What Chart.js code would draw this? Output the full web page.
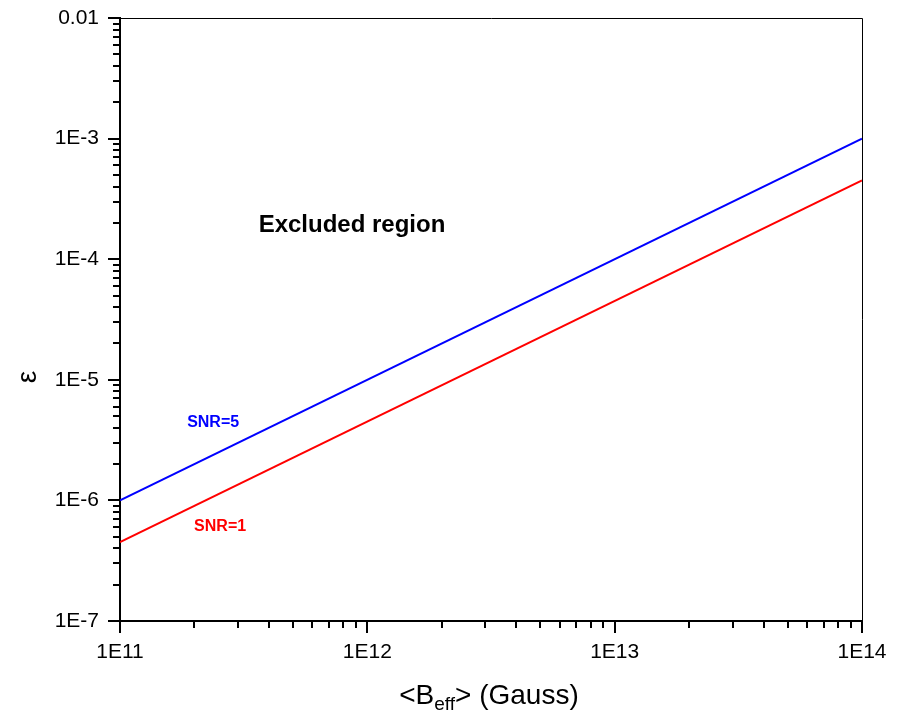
<!DOCTYPE html>
<html><head><meta charset="utf-8">
<script src="https://cdn.jsdelivr.net/npm/chart.js@4"></script>
<style>html,body{margin:0;padding:0;background:#fff}</style>
</head><body>
<canvas id="c" width="901" height="714"></canvas>
<script>
// ---- data ----
const bField = [1e11, 1e14];
const epsSNR5 = [1e-6, 1e-3];
const epsSNR1 = [4.5e-7, 4.5e-4];
const seriesNames = ['SNR=5', 'SNR=1'];
const xMajorTicks = [1e11, 1e12, 1e13, 1e14];
const xTickLabels = ['1E11', '1E12', '1E13', '1E14'];
const yMajorTicks = [1e-7, 1e-6, 1e-5, 1e-4, 1e-3, 1e-2];
const yTickLabels = ['1E-7', '1E-6', '1E-5', '1E-4', '1E-3', '0.01'];
const noteTexts = ['Excluded region', 'SNR=5', 'SNR=1'];
const noteX = [8.67e11, 2.38e11, 2.54e11];
const noteY = [1.92e-4, 4.38e-6, 6.1e-7];

const FONT = '"Liberation Sans", Arial, sans-serif';

function minorTicks(majors) {
  const out = [];
  for (let i = 0; i < majors.length - 1; i++) {
    for (let k = 2; k <= 9; k++) out.push(majors[i] * k);
  }
  return out;
}

function noOverflow(s) {
  s.paddingTop = 0; s.paddingBottom = 0; s.paddingLeft = 0; s.paddingRight = 0;
}

const decoPlugin = {
  id: 'deco',
  afterDraw(chart) {
    const ctx = chart.ctx;
    const xs = chart.scales.x, ys = chart.scales.y;
    const ca = chart.chartArea;
    ctx.save();
    // top & right thin frame
    ctx.strokeStyle = '#000';
    ctx.lineWidth = 1;
    ctx.beginPath();
    ctx.moveTo(ca.left, ca.top + 0.5);
    ctx.lineTo(ca.right + 0.5, ca.top + 0.5);
    ctx.lineTo(ca.right + 0.5, ca.bottom);
    ctx.stroke();
    // ticks
    ctx.lineWidth = 2;
    ctx.beginPath();
    const xb = ca.bottom;
    xMajorTicks.forEach(v => { const p = Math.round(xs.getPixelForValue(v)); ctx.moveTo(p, xb); ctx.lineTo(p, xb + 12); });
    minorTicks(xMajorTicks).forEach(v => { const p = Math.round(xs.getPixelForValue(v)); ctx.moveTo(p, xb); ctx.lineTo(p, xb + 7); });
    const yl = ca.left;
    yMajorTicks.forEach(v => { const p = Math.round(ys.getPixelForValue(v)); ctx.moveTo(yl, p); ctx.lineTo(yl - 12, p); });
    minorTicks(yMajorTicks).forEach(v => { const p = Math.round(ys.getPixelForValue(v)); ctx.moveTo(yl, p); ctx.lineTo(yl - 7, p); });
    ctx.stroke();
    // notes
    ctx.textAlign = 'center';
    ctx.textBaseline = 'middle';
    const noteStyle = [
      { font: 'bold 24px ' + FONT, color: '#000' },
      { font: 'bold 16px ' + FONT, color: '#0000ff' },
      { font: 'bold 16px ' + FONT, color: '#ff0000' }
    ];
    noteTexts.forEach((t, i) => {
      ctx.font = noteStyle[i].font;
      ctx.fillStyle = noteStyle[i].color;
      ctx.fillText(t, xs.getPixelForValue(noteX[i]), ys.getPixelForValue(noteY[i]));
    });
    // y title
    ctx.fillStyle = '#000';
    ctx.save();
    ctx.translate(28, 377);
    ctx.rotate(-Math.PI / 2);
    ctx.font = '28px ' + FONT;
    ctx.textAlign = 'center';
    ctx.textBaseline = 'middle';
    ctx.fillText('\u03b5', 0, 0);
    ctx.restore();
    // x title with subscript
    const big = '28px ' + FONT, small = '19px ' + FONT;
    const p1 = '<B', p2 = 'eff', p3 = '> (Gauss)';
    ctx.font = big; const w1 = ctx.measureText(p1).width, w3 = ctx.measureText(p3).width;
    ctx.font = small; const w2 = ctx.measureText(p2).width;
    const total = w1 + w2 + w3;
    let x0 = 489 - total / 2;
    const base = 704;
    ctx.textAlign = 'left';
    ctx.textBaseline = 'alphabetic';
    ctx.font = big; ctx.fillText(p1, x0, base);
    ctx.font = small; ctx.fillText(p2, x0 + w1, base + 6);
    ctx.font = big; ctx.fillText(p3, x0 + w1 + w2, base);
    ctx.restore();
  }
};

const tickFont = { family: FONT, size: 21 };

new Chart(document.getElementById('c'), {
  type: 'line',
  data: {
    datasets: [
      { label: seriesNames[0], data: bField.map((b, i) => ({ x: b, y: epsSNR5[i] })), borderColor: '#0000ff', borderWidth: 2, pointRadius: 0, fill: false, tension: 0 },
      { label: seriesNames[1], data: bField.map((b, i) => ({ x: b, y: epsSNR1[i] })), borderColor: '#ff0000', borderWidth: 2, pointRadius: 0, fill: false, tension: 0 }
    ]
  },
  options: {
    responsive: false,
    animation: false,
    devicePixelRatio: 1,
    layout: { padding: { top: 18, right: 39, left: 0, bottom: 0 } },
    plugins: { legend: { display: false }, tooltip: { enabled: false } },
    scales: {
      x: {
        type: 'logarithmic', min: 1e11, max: 1e14,
        grid: { display: false, drawTicks: false },
        border: { display: true, color: '#000', width: 2 },
        afterBuildTicks: s => { s.ticks = xMajorTicks.map(v => ({ value: v })); },
        afterFit: s => { s.height = 93; noOverflow(s); },
        ticks: {
          autoSkip: false, maxRotation: 0, color: '#000', font: tickFont, padding: 19,
          callback: v => { const i = xMajorTicks.indexOf(v); return i >= 0 ? xTickLabels[i] : ''; }
        }
      },
      y: {
        type: 'logarithmic', min: 1e-7, max: 1e-2,
        grid: { display: false, drawTicks: false },
        border: { display: true, color: '#000', width: 2 },
        afterBuildTicks: s => { s.ticks = yMajorTicks.map(v => ({ value: v })); },
        afterFit: s => { s.width = 120; noOverflow(s); },
        ticks: {
          autoSkip: false, color: '#000', font: tickFont, padding: 21,
          callback: v => { const i = yMajorTicks.findIndex(m => Math.abs(m - v) / m < 1e-9); return i >= 0 ? yTickLabels[i] : ''; }
        }
      }
    }
  },
  plugins: [decoPlugin]
});
</script>
</body></html>
